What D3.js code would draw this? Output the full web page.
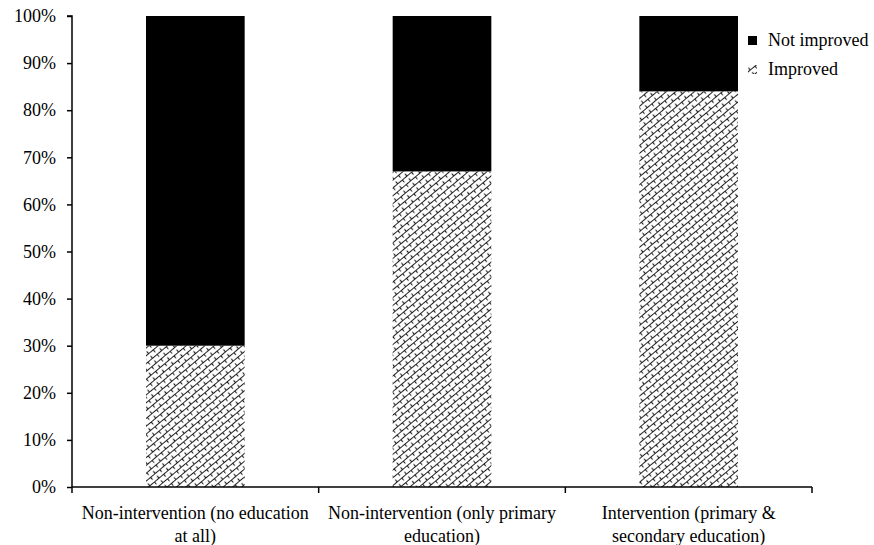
<!DOCTYPE html>
<meta charset="utf-8">
<style>
  body { margin: 0; background: #fff; }
</style>
<body>
<div id="chart"></div>
<script src="https://cdn.jsdelivr.net/npm/d3@7"></script>
<script>
    var width = 874, height = 545;
    var margin = {top: 16, right: 62, bottom: 58, left: 72};
    var serif = "'Liberation Serif', 'Times New Roman', serif";
    var fontSize = "18px";

    // data
    var categories = [
        ["Non-intervention (no education", "at all)"],
        ["Non-intervention (only primary", "education)"],
        ["Intervention (primary &", "secondary education)"]
    ];
    var improved = [30, 67, 84];
    var notImproved = [70, 33, 16];
    var seriesNames = ["Not improved", "Improved"];
    var yTicks = [0, 10, 20, 30, 40, 50, 60, 70, 80, 90, 100];

    var rows = categories.map(function(c, i) {
        return {key: i, Improved: improved[i], "Not improved": notImproved[i]};
    });
    var stacked = d3.stack().keys(["Improved", "Not improved"])(rows);

    var svg = d3.select("#chart").append("svg")
        .attr("width", width)
        .attr("height", height);

    // brick-ish diagonal hatch
    var defs = svg.append("defs");
    var pat = defs.append("pattern")
        .attr("id", "brick")
        .attr("patternUnits", "userSpaceOnUse")
        .attr("width", 12)
        .attr("height", 6)
        .attr("patternTransform", "rotate(-40)");
    pat.append("rect").attr("width", 12).attr("height", 6).attr("fill", "#fff");
    pat.append("path")
        .attr("d", "M0,0.5H12M0.5,0.5V3.5M6.5,3.5V6.5")
        .attr("stroke", "#222")
        .attr("stroke-width", 1.2)
        .attr("fill", "none");

    var x = d3.scaleBand()
        .domain(d3.range(categories.length))
        .range([margin.left, width - margin.right])
        .paddingInner(0.6)
        .paddingOuter(0.3);

    var band = d3.scaleBand()
        .domain(d3.range(categories.length))
        .range([margin.left, width - margin.right]);

    var y = d3.scaleLinear()
        .domain([0, 100])
        .range([height - margin.bottom, margin.top]);

    var fills = {"Improved": "url(#brick)", "Not improved": "#000"};

    svg.append("g")
        .selectAll("g")
        .data(stacked)
        .enter().append("g")
            .attr("fill", function(d) { return fills[d.key]; })
        .selectAll("rect")
        .data(function(d) { return d; })
        .enter().append("rect")
            .attr("x", function(d, i) { return x(i); })
            .attr("width", x.bandwidth())
            .attr("y", function(d) { return y(d[1]); })
            .attr("height", function(d) { return y(d[0]) - y(d[1]); });

    // y axis
    var yAxis = svg.append("g")
        .attr("transform", "translate(" + margin.left + ",0)")
        .call(d3.axisLeft(y).tickValues(yTicks).tickSize(5).tickPadding(11)
            .tickFormat(function(d) { return d + "%"; }));
    yAxis.select(".domain").attr("stroke", "#000").attr("stroke-width", 1.5)
        .attr("d", "M-5," + y(100) + "H0V" + y(0));
    yAxis.selectAll("line").attr("stroke-width", 1.5);
    yAxis.selectAll("text")
        .style("font-family", serif)
        .style("font-size", fontSize)
        .attr("fill", "#000");

    // x axis with boundary ticks
    var xAxis = svg.append("g")
        .attr("transform", "translate(0," + y(0) + ")");
    xAxis.append("line")
        .attr("x1", margin.left).attr("x2", width - margin.right)
        .attr("stroke", "#000").attr("stroke-width", 1.5);
    var edges = d3.range(categories.length + 1).map(function(i) {
        return i < categories.length ? band(i) : band(i - 1) + band.bandwidth();
    });
    xAxis.selectAll(".tk")
        .data(edges)
        .enter().append("line")
            .attr("class", "tk")
            .attr("x1", function(d) { return d; })
            .attr("x2", function(d) { return d; })
            .attr("y1", 0).attr("y2", 6)
            .attr("stroke", "#000").attr("stroke-width", 1.5);

    var lab = xAxis.selectAll(".lab")
        .data(categories)
        .enter().append("text")
            .attr("class", "lab")
            .attr("text-anchor", "middle")
            .style("font-family", serif)
            .style("font-size", fontSize);
    lab.selectAll("tspan")
        .data(function(d, i) { return d.map(function(t) { return {t: t, i: i}; }); })
        .enter().append("tspan")
            .attr("x", function(d) { return band(d.i) + band.bandwidth() / 2; })
            .attr("y", function(d, j) { return 32 + j * 23; })
            .text(function(d) { return d.t; });

    // legend
    var legend = svg.append("g").attr("transform", "translate(748,40)");
    legend.append("rect")
        .attr("x", 0).attr("y", -4).attr("width", 9).attr("height", 9)
        .attr("fill", "#000");
    legend.append("rect")
        .attr("x", 0).attr("y", 25).attr("width", 9).attr("height", 9)
        .attr("fill", "url(#brick)");
    legend.selectAll("text")
        .data(seriesNames)
        .enter().append("text")
            .attr("x", 20)
            .attr("y", function(d, i) { return 6 + i * 29; })
            .style("font-family", serif)
            .style("font-size", fontSize)
            .text(function(d) { return d; });
</script>
</body>
